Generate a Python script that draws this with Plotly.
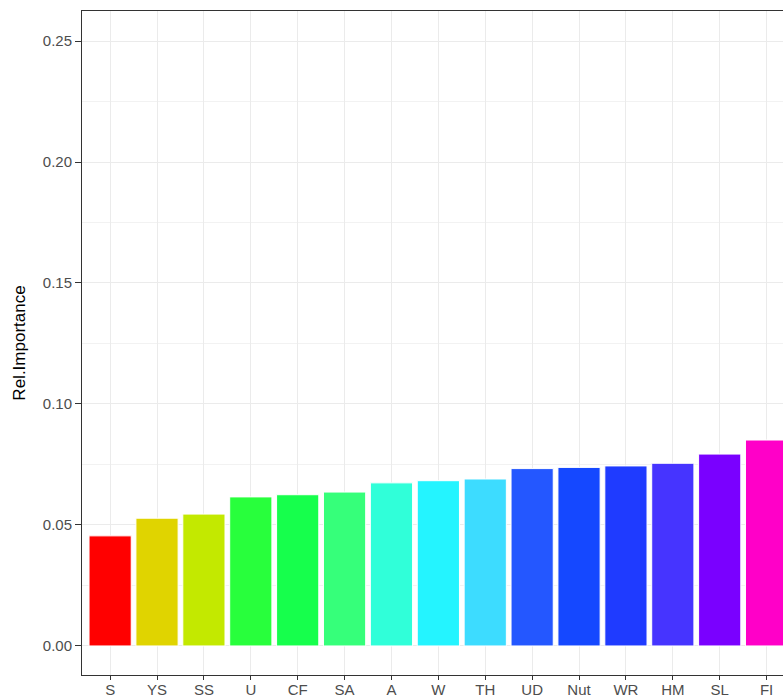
import plotly.graph_objects as go

categories = ["S", "YS", "SS", "U", "CF", "SA", "A", "W", "TH", "UD", "Nut", "WR", "HM", "SL", "FI"]
importance = [0.0455, 0.0528, 0.0545, 0.0616, 0.0625, 0.0636, 0.0674, 0.0683, 0.0690,
              0.0733, 0.0738, 0.0744, 0.0755, 0.0793, 0.0851]
bar_colors = ["#FF0000", "#E0D400", "#C3E900", "#28FF3C", "#16FF4C", "#36FF7A", "#30FFD9",
              "#24F4FF", "#3DDCFF", "#2457FF", "#1548FF", "#1F3BFF", "#4634FF", "#7A00FF", "#FF00C8"]
y_ticks = [0.00, 0.05, 0.10, 0.15, 0.20, 0.25]

fig = go.Figure(go.Bar(
    x=categories, y=importance, width=0.9,
    marker=dict(color=bar_colors, line=dict(color="white", width=1)),
    hoverinfo="skip",
))

fig.update_layout(
    width=783, height=700,
    margin=dict(l=82, r=0, t=11, b=25, pad=0),
    paper_bgcolor="white", plot_bgcolor="white",
    showlegend=False,
    font=dict(family="Liberation Sans, Arial, sans-serif"),
)
fig.update_xaxes(
    type="category", range=[-0.6, 14.35],
    showline=True, linecolor="#333333", linewidth=1, mirror=True,
    ticks="outside", ticklen=4, tickcolor="#333333", tickwidth=1,
    showgrid=True, gridcolor="#EBEBEB", gridwidth=1,
    tickfont=dict(size=15, color="#4D4D4D"),
    ticklabelstandoff=-3,
)
fig.update_yaxes(
    range=[-0.012, 0.2624],
    tickvals=y_ticks, ticktext=[f"{v:.2f}" for v in y_ticks],
    showline=True, linecolor="#333333", linewidth=1,
    ticks="outside", ticklen=6, tickcolor="#333333", tickwidth=1,
    showgrid=True, gridcolor="#EBEBEB", gridwidth=1,
    minor=dict(tickvals=[0.025, 0.075, 0.125, 0.175, 0.225], showgrid=True,
               gridcolor="#F2F2F2", gridwidth=1, ticks=""),
    zeroline=False,
    tickfont=dict(size=15, color="#4D4D4D"),
    title=dict(text="Rel.Importance", font=dict(size=17, color="black"), standoff=12),
)

fig.write_html(
    "out.html",
    config={"displayModeBar": False},
    post_script="document.body.style.margin='0';document.body.style.overflow='hidden';",
)
